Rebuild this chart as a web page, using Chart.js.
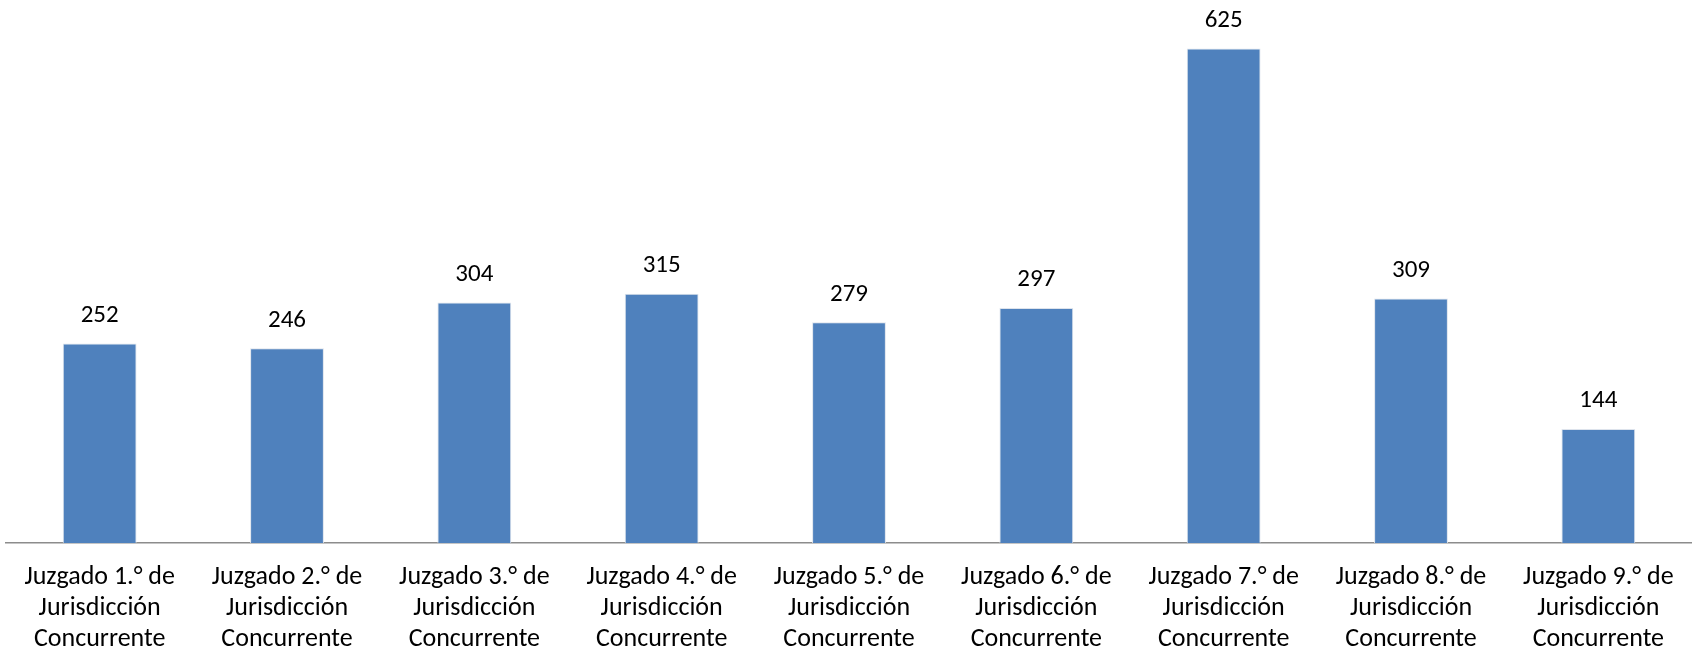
<!DOCTYPE html>
<html>
<head>
    <title>Juzgados de Jurisdicción Concurrente</title>
    <script src="https://cdn.jsdelivr.net/npm/chart.js"></script>
    <style>
        body { margin: 0; background: #fff; }
        #wrap { width: 1692px; height: 652px; }
    </style>
</head>
<body>
    <div id="wrap"><canvas id="myChart"></canvas></div>
    <script>
        // categorías y valores
        const juzgados = ['1.°', '2.°', '3.°', '4.°', '5.°', '6.°', '7.°', '8.°', '9.°'];
        const valores = [252, 246, 304, 315, 279, 297, 625, 309, 144];

        const etiquetas = juzgados.map(n => ['Juzgado ' + n + ' de', 'Jurisdicción', 'Concurrente']);

        // dibuja el número encima de cada barra
        const valueLabels = {
            id: 'valueLabels',
            afterDatasetsDraw(chart) {
                const ctx = chart.ctx;
                const meta = chart.getDatasetMeta(0);
                ctx.save();
                ctx.font = '25px Carlito, "Liberation Sans", sans-serif';
                ctx.fillStyle = '#000';
                ctx.textAlign = 'center';
                ctx.textBaseline = 'middle';
                meta.data.forEach((bar, i) => {
                    ctx.fillText(valores[i], bar.x, bar.y - 28);
                });
                ctx.restore();
            }
        };

        const ctx = document.getElementById('myChart').getContext('2d');
        new Chart(ctx, {
            type: 'bar',
            data: {
                labels: etiquetas,
                datasets: [{
                    data: valores,
                    backgroundColor: '#4F81BD',
                    borderColor: '#dde3ec',
                    borderWidth: { left: 1, right: 1, top: 1, bottom: 0 },
                    categoryPercentage: 1,
                    barPercentage: 0.394
                }]
            },
            options: {
                responsive: true,
                maintainAspectRatio: false,
                animation: false,
                layout: { padding: { left: 6, right: 0, top: 5, bottom: -14 } },
                plugins: {
                    legend: { display: false },
                    tooltip: { enabled: false }
                },
                scales: {
                    x: {
                        grid: { display: false },
                        border: { display: true, color: '#8c8c8c', width: 1.5 },
                        ticks: {
                            color: '#000',
                            padding: 11,
                            maxRotation: 0,
                            autoSkip: false,
                            font: { family: 'Carlito, "Liberation Sans", sans-serif', size: 26, lineHeight: '31px' }
                        }
                    },
                    y: {
                        display: false,
                        min: 0,
                        max: 680
                    }
                }
            },
            plugins: [valueLabels]
        });
    </script>
</body>
</html>
